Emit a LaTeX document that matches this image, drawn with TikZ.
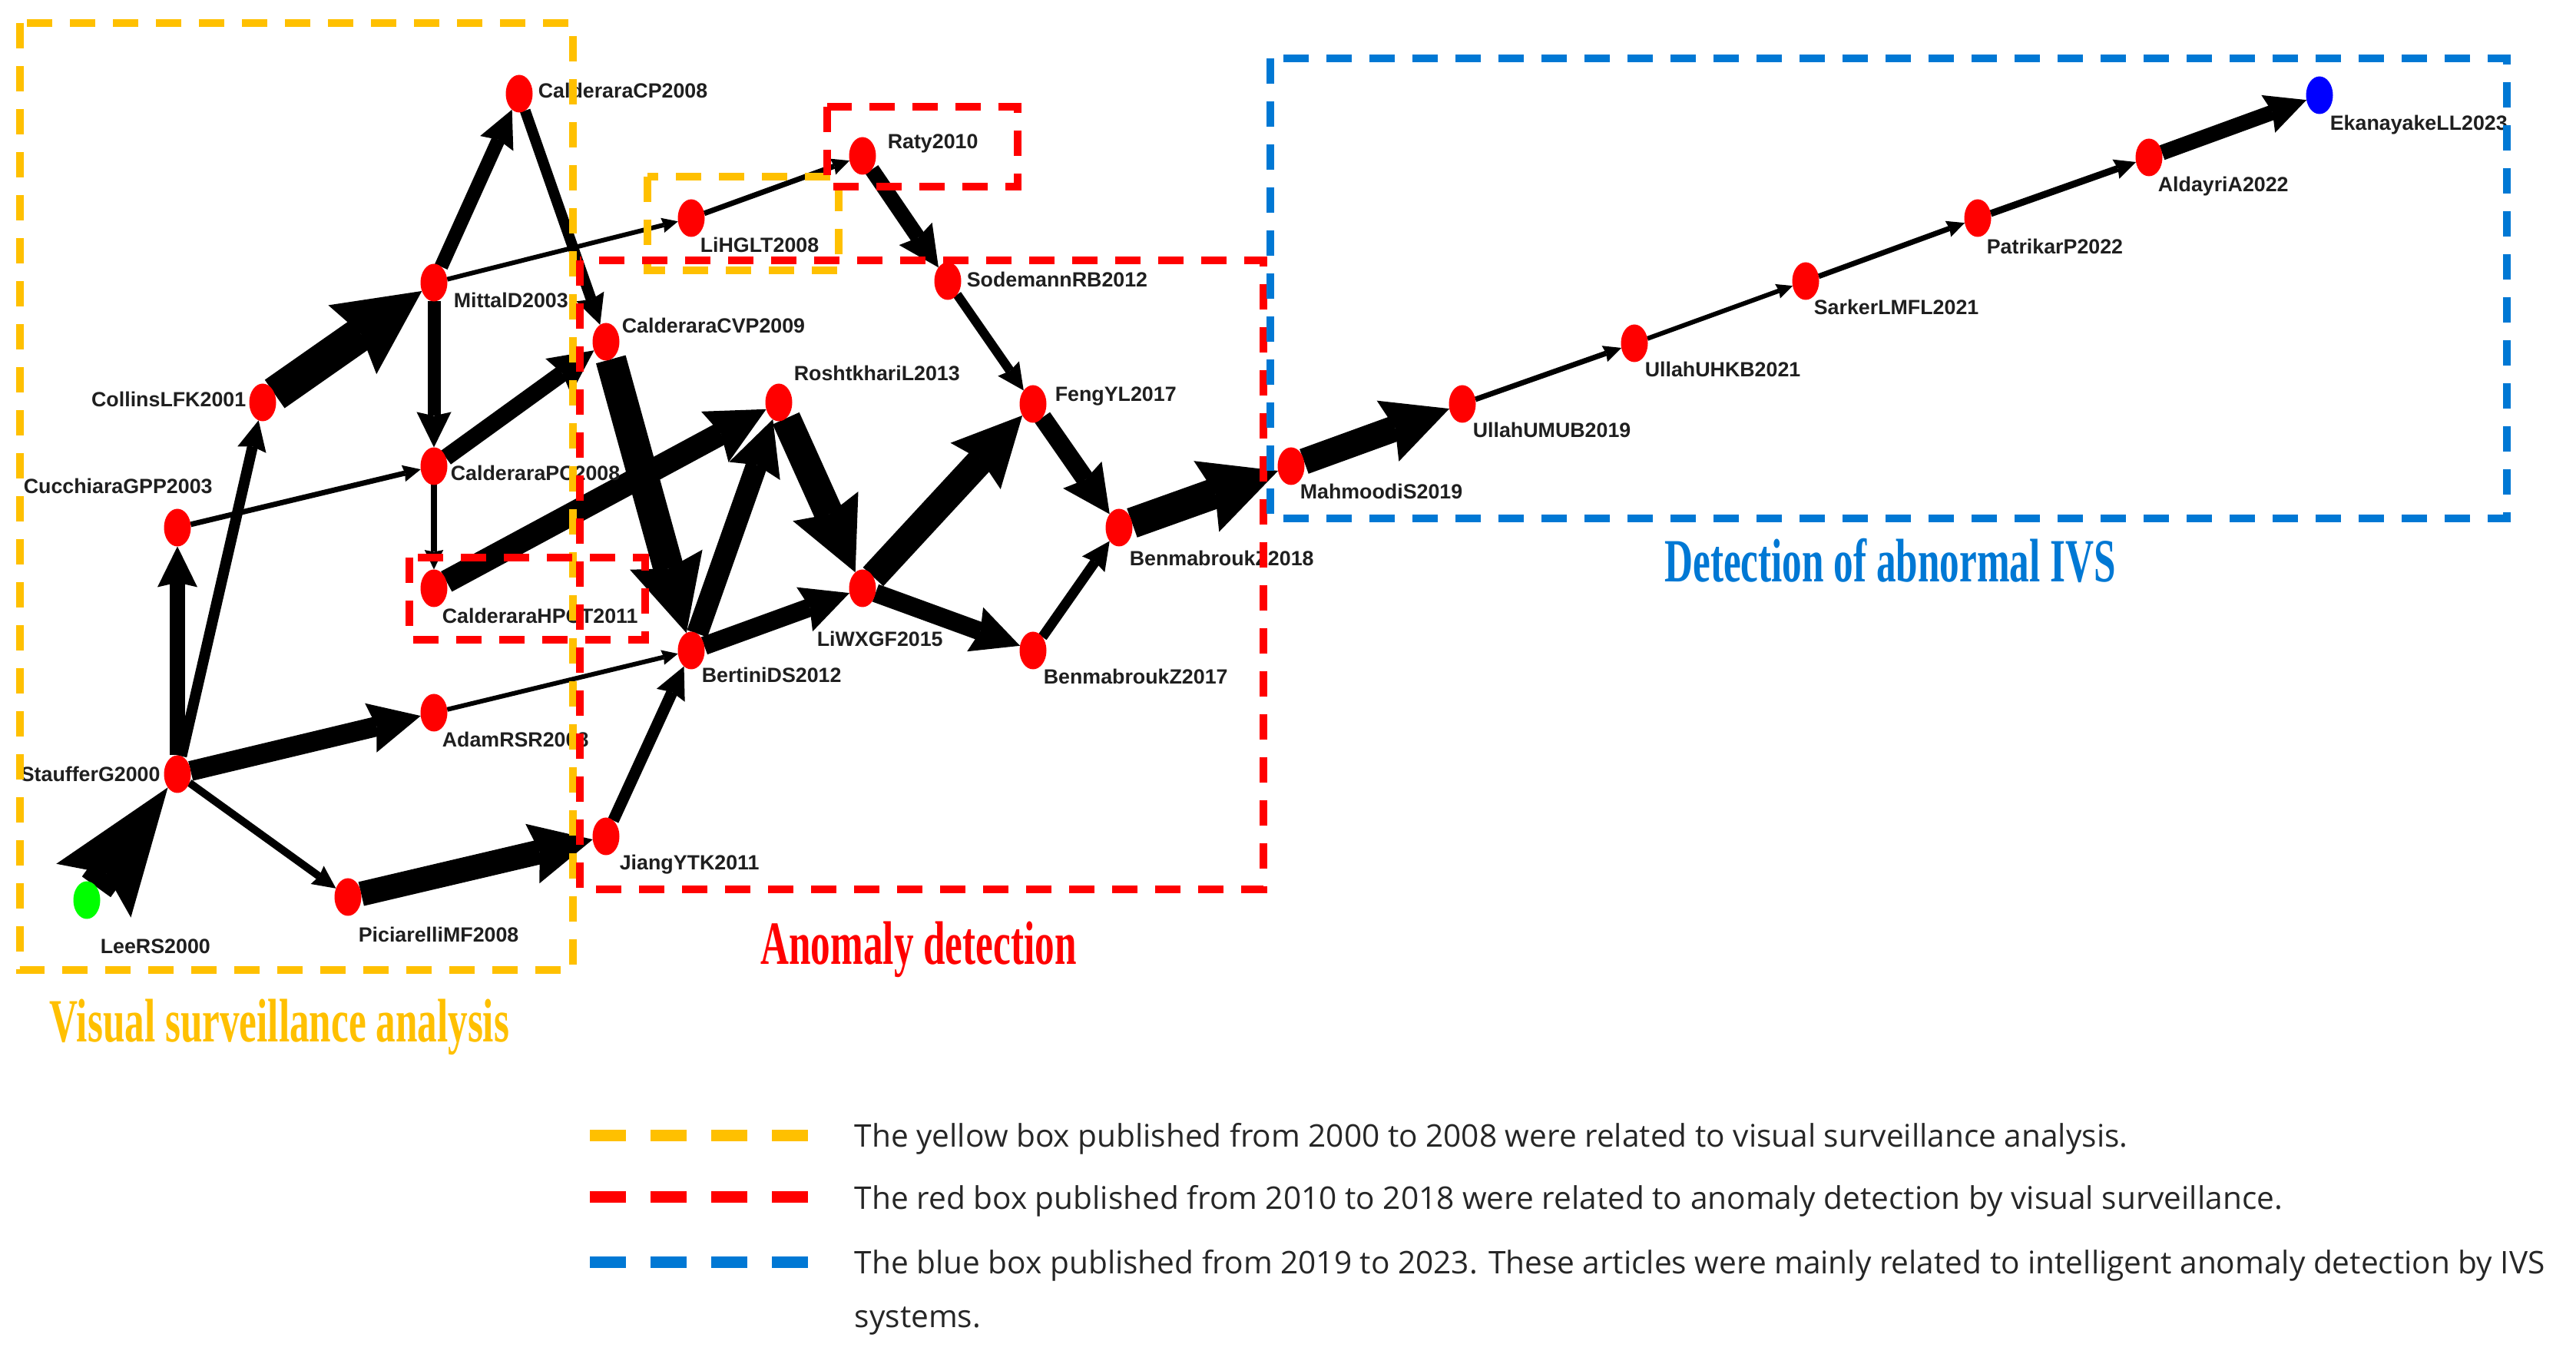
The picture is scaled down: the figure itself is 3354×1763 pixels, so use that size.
\documentclass[tikz,border=0pt]{standalone}
\usepackage{fontspec}
\setmainfont{Liberation Sans}
\newfontfamily\legendfont{Open Sans}
\newfontfamily\titlefont{Liberation Serif}[FakeStretch=0.64]
\usetikzlibrary{arrows.meta,shapes.geometric}
\pgfdeclarelayer{bg}
\pgfsetlayers{bg,main}
\definecolor{ycol}{HTML}{FFC000}
\definecolor{rcol}{HTML}{FF0000}
\definecolor{bcol}{HTML}{0078D4}
\definecolor{ngreen}{HTML}{00FF00}
\definecolor{nblue}{HTML}{0000FF}
\tikzset{
  paper/.style={ellipse, fill=rcol, minimum width=8.75pt, minimum height=12.25pt, inner sep=0pt, outer sep=0pt},
  nlabel/.style={font=\fontsize{6.7}{7}\selectfont\bfseries, inner sep=0pt, text height=4.8pt, text depth=0pt, anchor=west, text=black!88},
  cite/.style={draw=black, line width=#1*0.25pt, -{Stealth[length=1.75pt 2.3, width=1.5pt 2.3, inset=0pt 0.3, line width=0pt]}},
  bigcite/.style={draw=black, line width=#1*0.25pt, -{Stealth[length=0pt 3.6, width=0pt 2.6, inset=0pt 0.6, line width=0pt]}},
  areabox/.style={line width=2.4pt, dash pattern=on 8.25pt off 5.75pt},
  areatitle/.style={font=\titlefont\bfseries\fontsize{20}{22}\selectfont, anchor=base, inner sep=0pt},
  legtext/.style={font=\legendfont\fontsize{10.15}{17.5}\selectfont, anchor=base west, inner sep=0pt, align=left, text=black!85},
  legline/.style={line width=3.75pt, dash pattern=on 11.75pt off 8pt},
}
\begin{document}
\begin{tikzpicture}[x=0.25pt, y=-0.25pt]
\useasboundingbox (0,0) rectangle (3354,1763);
% nodes
\node[paper, fill=ngreen] (lee) at (113,1172) {};
\node[paper] (stauffer) at (231,1008) {};
\node[paper] (cucchiara) at (231,687) {};
\node[paper] (collins) at (342,524) {};
\node[paper] (mittal) at (565,368) {};
\node[paper] (cp08) at (676,122) {};
\node[paper] (lihglt) at (900,284) {};
\node[paper] (raty) at (1123,203) {};
\node[paper] (pc08) at (565,607) {};
\node[paper] (cvp09) at (789,445) {};
\node[paper] (hpct11) at (565,766) {};
\node[paper] (adam) at (565,928) {};
\node[paper] (pici) at (453,1168) {};
\node[paper] (jiang) at (789,1089) {};
\node[paper] (bertini) at (900,847) {};
\node[paper] (rosh) at (1014,524) {};
\node[paper] (sode) at (1234,366) {};
\node[paper] (liwx) at (1123,766) {};
\node[paper] (feng) at (1345,526) {};
\node[paper] (ben17) at (1345,847) {};
\node[paper] (ben18) at (1457,687) {};
\node[paper] (mahm) at (1681,607) {};
\node[paper] (umub) at (1904,526) {};
\node[paper] (uhkb) at (2128,447) {};
\node[paper] (sark) at (2351,366) {};
\node[paper] (patr) at (2575,284) {};
\node[paper] (aldy) at (2798,205) {};
\node[paper, fill=nblue] (ekan) at (3020,124) {};
% labels
\node[nlabel] (l-lee) at (130,1232) {LeeRS2000};
\node[nlabel] (l-stauffer) at (26,1008) {StaufferG2000};
\node[nlabel] (l-cucchiara) at (30,633) {CucchiaraGPP2003};
\node[nlabel, anchor=east] (l-collins) at (321,520) {CollinsLFK2001};
\node[nlabel] (l-mittal) at (590,391) {MittalD2003};
\node[nlabel] (l-cp08) at (700,118) {CalderaraCP2008};
\node[nlabel] (l-lihglt) at (911,319) {LiHGLT2008};
\node[nlabel] (l-raty) at (1155,184) {Raty2010};
\node[nlabel] (l-pc08) at (586,616) {CalderaraPC2008};
\node[nlabel] (l-cvp09) at (809,424) {CalderaraCVP2009};
\node[nlabel] (l-hpct11) at (575,802) {CalderaraHPCT2011};
\node[nlabel] (l-adam) at (575,963) {AdamRSR2008};
\node[nlabel] (l-pici) at (466,1217) {PiciarelliMF2008};
\node[nlabel] (l-jiang) at (806,1123) {JiangYTK2011};
\node[nlabel] (l-bertini) at (913,879) {BertiniDS2012};
\node[nlabel] (l-rosh) at (1033,486) {RoshtkhariL2013};
\node[nlabel] (l-sode) at (1258,364) {SodemannRB2012};
\node[nlabel] (l-liwx) at (1063,832) {LiWXGF2015};
\node[nlabel] (l-feng) at (1373,513) {FengYL2017};
\node[nlabel] (l-ben17) at (1358,881) {BenmabroukZ2017};
\node[nlabel] (l-ben18) at (1470,727) {BenmabroukZ2018};
\node[nlabel] (l-mahm) at (1692,640) {MahmoodiS2019};
\node[nlabel] (l-umub) at (1917,560) {UllahUMUB2019};
\node[nlabel] (l-uhkb) at (2141,481) {UllahUHKB2021};
\node[nlabel] (l-sark) at (2361,400) {SarkerLMFL2021};
\node[nlabel] (l-patr) at (2586,321) {PatrikarP2022};
\node[nlabel] (l-aldy) at (2809,240) {AldayriA2022};
\node[nlabel] (l-ekan) at (3033,160) {EkanayakeLL2023};
% edges
\begin{pgfonlayer}{bg}
\draw[bigcite=46] (lee) -- (stauffer);
\draw[cite=20] (stauffer) -- (cucchiara);
\draw[cite=14] (stauffer) -- (collins);
\draw[cite=26] (stauffer) -- (adam);
\draw[cite=10] (stauffer) -- (pici);
\draw[cite=45] (collins) -- (mittal);
\draw[cite=18] (mittal) -- (cp08);
\draw[cite=6] (mittal) -- (lihglt);
\draw[cite=17] (mittal) -- (pc08);
\draw[cite=14] (cp08) -- (cvp09);
\draw[cite=7] (cucchiara) -- (pc08);
\draw[cite=22] (pc08) -- (cvp09);
\draw[cite=8] (pc08) -- (hpct11);
\draw[cite=30] (hpct11) -- (rosh);
\draw[cite=40] (cvp09) -- (bertini);
\draw[cite=7] (lihglt) -- (raty);
\draw[cite=20] (raty) -- (sode);
\draw[cite=12] (sode) -- (feng);
\draw[cite=38] (rosh) -- (liwx);
\draw[cite=28] (bertini) -- (rosh);
\draw[cite=24] (bertini) -- (liwx);
\draw[cite=36] (liwx) -- (feng);
\draw[cite=24] (liwx) -- (ben17);
\draw[cite=24] (feng) -- (ben18);
\draw[cite=13] (ben17) -- (ben18);
\draw[cite=40] (ben18) -- (mahm);
\draw[cite=6] (adam) -- (bertini);
\draw[cite=32] (pici) -- (jiang);
\draw[cite=15] (jiang) -- (bertini);
\draw[cite=34] (mahm) -- (umub);
\draw[cite=7] (umub) -- (uhkb);
\draw[cite=6] (uhkb) -- (sark);
\draw[cite=7] (sark) -- (patr);
\draw[cite=9] (patr) -- (aldy);
\draw[cite=20] (aldy) -- (ekan);
\end{pgfonlayer}
% area boxes
\draw[areabox, ycol] (26,30) rectangle (746,1263);
\draw[areabox, ycol] (843,230) rectangle (1092,352);
\draw[areabox, rcol] (755,339) rectangle (1645,1158);
\draw[areabox, rcol] (1077,139) rectangle (1325,243);
\draw[areabox, rcol] (533,726) rectangle (840,833);
\draw[areabox, bcol] (1654,76) rectangle (3264,675);
% area titles
\node[areatitle, text=ycol] (t-vsa) at (364,1356) {Visual surveillance analysis};
\node[areatitle, text=rcol] (t-ad) at (1196,1255) {Anomaly detection};
\node[areatitle, text=bcol] (t-ivs) at (2461,758) {Detection of abnormal IVS};
% legend
\draw[legline, ycol] (768,1478) -- (1055,1478);
\draw[legline, rcol] (768,1558) -- (1055,1558);
\draw[legline, bcol] (768,1643) -- (1055,1643);
\node[legtext] (g-y) at (1112,1493) {The yellow box published from 2000 to 2008 were related to visual surveillance analysis.};
\node[legtext] (g-r) at (1112,1574) {The red box published from 2010 to 2018 were related to anomaly detection by visual surveillance.};
\node[legtext] (g-b) at (1112,1728) {The blue box published from 2019 to 2023. These articles were mainly related to intelligent anomaly detection by IVS\\systems.};
\end{tikzpicture}
\end{document}
